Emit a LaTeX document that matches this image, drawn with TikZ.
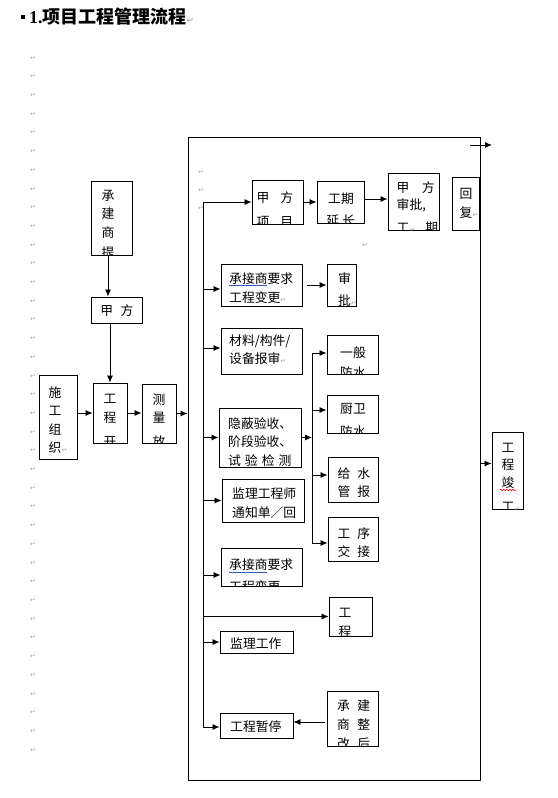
\documentclass[tikz,border=0pt]{standalone}
\usepackage{fontspec}
\setmainfont{Liberation Serif}
\newfontfamily\cjk{Noto Sans CJK SC}
\newfontfamily\dv{DejaVu Sans}
\usetikzlibrary{arrows.meta,fit,decorations.pathmorphing}
\definecolor{ublue}{RGB}{50,90,200}
\tikzset{
  box/.style={draw, line width=0.9pt, inner sep=0pt},
  frm/.style={draw, line width=1pt, inner sep=0pt},
  arr/.style={line width=0.8pt, -{Latex[length=7pt,width=6pt]}},
  ln/.style={line width=0.8pt},
  txt/.style={font=\cjk\fontsize{12.8}{15}\selectfont, inner sep=0pt},
  pm/.style={font=\dv\fontsize{7}{8}\selectfont, text=black!35, inner sep=0pt},
}
\newcommand\tl[3]{\node[txt,anchor=base west] at (#1,#2) {#3};}
\newcommand\tc[3]{\node[txt,anchor=base] at (#1,#2) {#3};}
\newcommand\pmk{{\dv\fontsize{7}{8}\selectfont\color{black!35}↵}}
\newcommand\bx[6]{\node[box,fit={(#2,#3)(#4,#5)}] (#1) {};
  \begin{scope}\clip (#1.south west) rectangle (#1.north east); #6 \end{scope}}
\begin{document}
\begin{tikzpicture}[x=1pt,y=-1pt]
\useasboundingbox (0,0) rectangle (557,798);
% title
\node[fill, minimum size=4pt, inner sep=0pt] (bul) at (23,17) {};
\node[anchor=base west, inner sep=0pt] (title) at (29,23.5)
  {{\bfseries\fontsize{18}{20}\selectfont 1.}{\cjk\bfseries\fontsize{18}{20}\selectfont 项目工程管理流程}{\dv\fontsize{9}{10}\selectfont\color{black!35}↵}};
% paragraph marks
\foreach \i in {0,...,37} \node[pm] (pm\i) at (33,{58+\i*18.7}) {↵};
\node[pm] (pma) at (201,172) {↵};
\node[pm] (pmb) at (201,190) {↵};
\node[pm] (pmc) at (201,208) {↵};
\node[pm] (pmd) at (365,245) {↵};
% frame
\node[frm, fit={(188,137)(480,780)}] (frame) {};
% left part
\bx{cj}{91}{181}{132}{255}{\tc{108}{200}{承}\tc{108}{218.5}{建}\tc{108}{237}{商}\tc{108}{257}{提}}
\bx{jf}{91}{297}{142}{323}{\tc{117}{315}{甲\hspace{7.5pt}方}}
\bx{sz}{39}{375}{77}{459}{\tl{48.5}{397}{施}\tl{48.5}{415.5}{工}\tl{48.5}{434}{组}\tl{48.5}{452.5}{织\pmk}}
\bx{gk}{93}{383}{127}{443}{\tc{110}{403}{工}\tc{110}{422}{程}\tc{110}{446}{开}}
\bx{cl}{142}{384}{176}{443}{\tc{159}{404}{测}\tc{159}{422.5}{量}\tc{159}{446}{放}}
% top row
\bx{jfxm}{252}{180}{303}{224}{\tc{275}{202}{甲\hspace{11pt}方}\tc{275}{226}{项\hspace{11pt}目}}
\bx{gqyc}{317}{181}{364}{223}{\tc{341}{203}{工期}\tc{341}{225}{延\hspace{3pt}长}}
\bx{jfsp}{388}{173}{439}{230}{\tl{396.5}{192}{甲\hspace{12.5pt}方}\tl{396.5}{209.5}{审批,}\tl{396.5}{232}{工\pmk\hspace{10pt}期}}
\bx{hf}{452}{177}{479}{230}{\tl{459.5}{198}{回}\tl{459.5}{217}{复\pmk}}
% main column
\bx{bg1}{221}{264}{302}{306}{\tl{229}{283}{承接商要求}\tl{229}{302}{工程变更\pmk}}
\bx{sp}{327}{264}{356}{306}{\tl{338}{283}{审}\tl{338}{305}{批\pmk}}
\bx{cl2}{221}{328}{302}{374}{\tl{229}{345.5}{材料/构件/}\tl{229}{363}{设备报审\pmk}}
\bx{yb}{219}{408}{301}{467}{\tl{228}{428}{隐蔽验收、}\tl{228}{446}{阶段验收、}\tl{228}{465}{试\hspace{4pt}验\hspace{4pt}检\hspace{4pt}测}}
\bx{jl}{222}{479}{304}{522}{\tl{232}{498}{监理工程师}\tl{232}{517}{通知单／回}}
\bx{bg2}{221}{548}{302}{586}{\tl{229}{569}{承接商要求}\tl{229}{591}{工程变更\pmk}}
\bx{gc}{329}{597}{372}{636}{\tc{345}{617}{工}\tc{345}{636}{程}}
\bx{jlgz}{220}{631}{293}{653}{\tl{230}{648}{监理工作}}
\bx{ztg}{220}{713}{293}{738}{\tl{230}{731}{工程暂停}}
\bx{zg}{327}{691}{378}{746}{\tl{337}{710}{承\hspace{7.5pt}建}\tl{337}{729}{商\hspace{7.5pt}整}\tl{337}{748}{改\hspace{7.5pt}后}}
% sub column
\bx{ybfs}{327}{335}{378}{374}{\tc{353}{357}{一般}\tc{353}{377}{防水}}
\bx{cwfs}{327}{395}{378}{433}{\tc{353}{413}{厨卫}\tc{353}{436}{防水}}
\bx{gs}{328}{457}{378}{502}{\tc{354}{478}{给\hspace{7pt}水}\tc{354}{496.5}{管\hspace{7pt}报}}
\bx{gxjj}{328}{517}{378}{561}{\tc{354}{538}{工\hspace{7pt}序}\tc{354}{556}{交\hspace{7pt}接}}
% right
\bx{jg}{492}{432}{523}{509}{\tc{508}{452}{工}\tc{508}{469}{程}\tc{508}{487}{竣}\tl{501.5}{511}{工\pmk}}
% underlines
\draw[ublue, line width=0.8pt] (229,285.5) -- (267,285.5);
\draw[ublue, line width=0.8pt] (229,572) -- (267,572);
\draw[red, line width=0.6pt, decorate, decoration={snake, amplitude=0.8pt, segment length=3pt}] (500,490) -- (516,490);
% connectors left
\draw[arr] ([xshift=-3.5pt]cj.south) -- ([xshift=-3.5pt]cj.south |- jf.north);
\draw[arr] (gk.north |- jf.south) -- (gk.north);
\draw[arr] (sz.east |- gk.west) -- (gk.west);
\draw[arr] (gk.east) -- (gk.east -| cl.west);
\draw[arr] (cl.east) -- (cl.east -| frame.west);
% main bus
\coordinate (bus) at (203,0);
\coordinate (a1) at ([yshift=-4pt]bg1.west);
\coordinate (a2) at ([yshift=3pt]cl2.west);
\coordinate (a5) at ([yshift=-8pt]bg2.west);
\coordinate (a8) at ([yshift=-1.5pt]ztg.west);
\draw[arr] (bus |- a8) -- (bus |- jfxm.west) -- (jfxm.west);
\draw[arr] (bus |- a1) -- (a1);
\draw[arr] (bus |- a2) -- (a2);
\draw[arr] (bus |- yb.west) -- (yb.west);
\draw[arr] (bus |- jl.west) -- (jl.west);
\draw[arr] (bus |- a5) -- (a5);
\draw[arr] (bus |- gc.west) -- (gc.west);
\draw[arr] (bus |- jlgz.west) -- (jlgz.west);
\draw[arr] (bus |- a8) -- (a8);
% top row arrows
\draw[arr] (jfxm.east) -- (jfxm.east -| gqyc.west);
\draw[arr] ([yshift=3pt]gqyc.east) -- ([yshift=3pt]gqyc.east -| jfsp.west);
\draw[arr, shorten <=5pt] (bg1.east) -- (sp.west);
% sub bus
\coordinate (bus2) at (312,0);
\coordinate (b1) at ([yshift=1.5pt]ybfs.west);
\coordinate (b2) at ([yshift=4pt]cwfs.west);
\coordinate (b3) at ([yshift=4.5pt]gs.west);
\coordinate (b4) at ([yshift=-4pt]gxjj.west);
\draw[ln] (bus2 |- b1) -- (bus2 |- b4);
\draw[arr] (bus2 |- b1) -- (b1);
\draw[arr] (bus2 |- b2) -- (b2);
\draw[arr] (bus2 |- b3) -- (b3);
\draw[arr] (bus2 |- b4) -- (b4);
\draw[arr] (yb.east) -- (yb.east -| bus2);
% bottom
\coordinate (c1) at ([yshift=-3.5pt]zg.west);
\draw[arr, shorten <=2pt] (c1) -- (c1 -| ztg.east);
% right
\coordinate (d1) at ([yshift=7pt]jg.west);
\draw[arr] (d1 -| frame.east) -- (d1);
\coordinate (t1) at (470,145);
\coordinate (t2) at (492,145);
\draw[arr] (t1) -- (t2);
\end{tikzpicture}
\end{document}
